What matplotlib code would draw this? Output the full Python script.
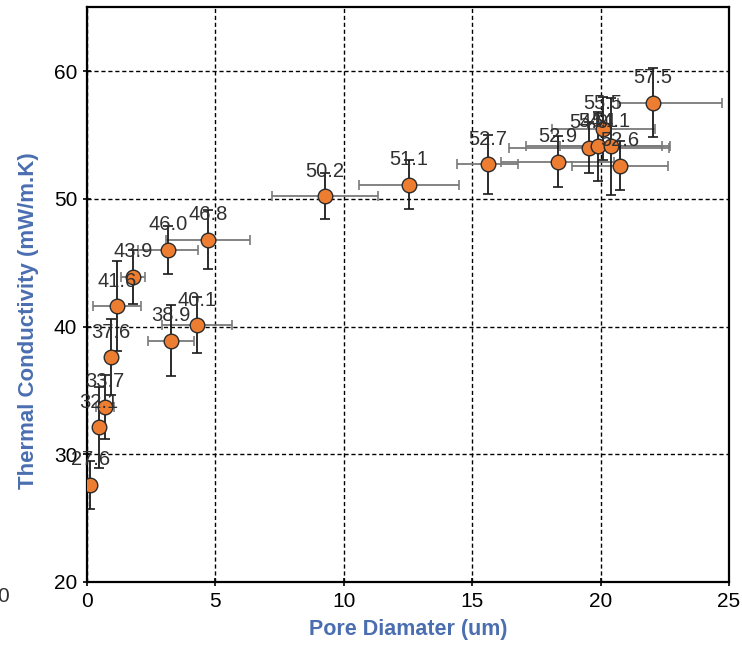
import numpy as np
import matplotlib
matplotlib.use("Agg")
import matplotlib.pyplot as plt

# pore diameter (um) and thermal conductivity (mW/m.K)
diam = [0.12, 0.47, 0.70, 0.93, 1.17, 1.79, 3.15, 4.71, 3.27, 4.28,
        9.27, 12.54, 15.60, 18.34, 19.55, 19.90, 20.40, 20.10, 20.76, 22.04]
tc   = [27.6, 32.1, 33.7, 37.6, 41.6, 43.9, 46.0, 46.8, 38.9, 40.1,
        50.2, 51.1, 52.7, 52.9, 54.0, 54.1, 54.1, 55.5, 52.6, 57.5]
xerr_lo = [0.10, 0.15, 0.35, 0.20, 0.92, 0.47, 1.17, 1.64, 0.90, 1.36,
           2.07, 1.95, 1.20, 2.20, 3.10, 2.80, 2.00, 2.00, 1.87, 1.35]
xerr_hi = [0.10, 0.15, 0.35, 0.20, 0.92, 0.47, 1.17, 1.64, 0.90, 1.36,
           2.07, 1.95, 1.20, 2.20, 3.10, 2.80, 2.00, 2.00, 1.87, 2.70]
yerr = [1.9, 3.2, 2.5, 3.0, 3.5, 2.1, 1.9, 2.3, 2.8, 2.2,
        1.8, 1.9, 2.3, 2.0, 2.0, 2.7, 3.8, 2.5, 1.9, 2.7]

X_TICKS = [0, 5, 10, 15, 20, 25]
Y_TICKS = [20, 30, 40, 50, 60]

BLUE   = "#4a6eb0"
ORANGE = "#ed7d31"
FONT   = ["Liberation Sans Narrow", "Liberation Sans", "DejaVu Sans"]

plt.rcParams['font.family'] = FONT

fig = plt.figure(figsize=(7.42, 6.51), dpi=100)
ax = fig.add_axes([0.1173, 0.106, 0.8652, 0.883])

# horizontal bars grey, vertical bars black
ax.errorbar(diam, tc, xerr=[xerr_lo, xerr_hi], fmt='none', ecolor='#7a7a7a',
            elinewidth=1.3, capsize=3.5, capthick=1.2, zorder=3)
ax.errorbar(diam, tc, yerr=yerr, fmt='none', ecolor='#1a1a1a',
            elinewidth=1.3, capsize=3.5, capthick=1.2, zorder=3)
ax.plot(diam, tc, 'o', ms=10.5, mfc=ORANGE, mec='#2b2b2b', mew=1.0,
        ls='none', zorder=4)

for xv, yv in zip(diam, tc):
    ax.annotate(f"{yv:.1f}", (xv, yv), xytext=(0, 18), textcoords='offset points',
                ha='center', va='center', fontsize=14.5, color='#303030', zorder=5)

ax.set_xlim(0, 25)
ax.set_ylim(20, 65)
ax.set_xticks(X_TICKS)
ax.set_yticks(Y_TICKS)
ax.tick_params(axis='both', direction='inout', length=6, width=1.2,
               labelsize=15, colors='black', pad=4)
ax.grid(True, ls=(0, (3, 2)), color='black', lw=1.0)
ax.set_axisbelow(True)
for s in ax.spines.values():
    s.set_linewidth(1.6)
    s.set_color('black')

ax.set_xlabel("Pore Diamater (um)", fontsize=15.5, fontweight='bold', color=BLUE, labelpad=6)
ax.set_ylabel("Thermal Conductivity (mW/m.K)", fontsize=16, fontweight='bold', color=BLUE)
ax.yaxis.set_label_coords(-0.075, 0.455)

# cut-off fragment at the left edge of the original image
fig.text(-0.004, 0.083, "0", fontsize=15, color='#303030', ha='left', va='center')

fig.savefig("out.png", dpi=100)
